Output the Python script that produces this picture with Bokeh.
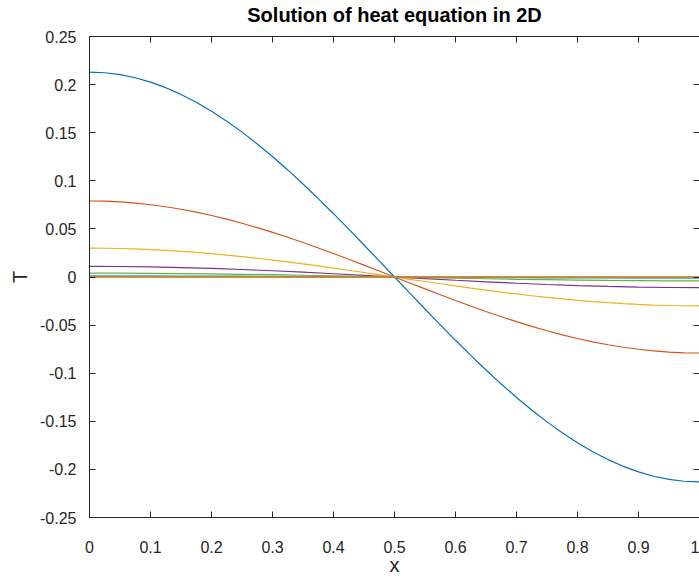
from bokeh.plotting import figure
from bokeh.models import LinearAxis, FixedTicker, Range1d
from bokeh.embed import file_html
from bokeh.resources import INLINE

# sample positions along x (fine grid for the large profiles, coarser for the small ones)
x_fine = [0.0, 0.025, 0.05, 0.075, 0.1, 0.125, 0.15, 0.175, 0.2, 0.225, 0.25,
          0.275, 0.3, 0.325, 0.35, 0.375, 0.4, 0.425, 0.45, 0.475, 0.5,
          0.525, 0.55, 0.575, 0.6, 0.625, 0.65, 0.675, 0.7, 0.725, 0.75,
          0.775, 0.8, 0.825, 0.85, 0.875, 0.9, 0.925, 0.95, 0.975, 1.0]
x_coarse = [0.0, 0.05, 0.1, 0.15, 0.2, 0.25, 0.3, 0.35, 0.4, 0.45, 0.5,
            0.55, 0.6, 0.65, 0.7, 0.75, 0.8, 0.85, 0.9, 0.95, 1.0]

# temperature profiles (one per time step)
T1 = [0.2130, 0.2123, 0.2104, 0.2071, 0.2026, 0.1968, 0.1898, 0.1816, 0.1723, 0.1620, 0.1506,
      0.1383, 0.1252, 0.1113, 0.0967, 0.0815, 0.0658, 0.0497, 0.0333, 0.0167, 0.0,
      -0.0167, -0.0333, -0.0497, -0.0658, -0.0815, -0.0967, -0.1113, -0.1252, -0.1383, -0.1506,
      -0.1620, -0.1723, -0.1816, -0.1898, -0.1968, -0.2026, -0.2071, -0.2104, -0.2123, -0.2130]
T2 = [0.0790, 0.0788, 0.0780, 0.0768, 0.0751, 0.0730, 0.0704, 0.0674, 0.0639, 0.0601, 0.0559,
      0.0513, 0.0464, 0.0413, 0.0359, 0.0302, 0.0244, 0.0184, 0.0124, 0.0062, 0.0,
      -0.0062, -0.0124, -0.0184, -0.0244, -0.0302, -0.0359, -0.0413, -0.0464, -0.0513, -0.0559,
      -0.0601, -0.0639, -0.0674, -0.0704, -0.0730, -0.0751, -0.0768, -0.0780, -0.0788, -0.0790]
T3 = [0.0300, 0.0299, 0.0296, 0.0292, 0.0285, 0.0277, 0.0267, 0.0256, 0.0243, 0.0228, 0.0212,
      0.0195, 0.0176, 0.0157, 0.0136, 0.0115, 0.0093, 0.0070, 0.0047, 0.0024, 0.0,
      -0.0024, -0.0047, -0.0070, -0.0093, -0.0115, -0.0136, -0.0157, -0.0176, -0.0195, -0.0212,
      -0.0228, -0.0243, -0.0256, -0.0267, -0.0277, -0.0285, -0.0292, -0.0296, -0.0299, -0.0300]
T4 = [0.0110, 0.0109, 0.0105, 0.0098, 0.0089, 0.0078, 0.0065, 0.0050, 0.0034, 0.0017, 0.0,
      -0.0017, -0.0034, -0.0050, -0.0065, -0.0078, -0.0089, -0.0098, -0.0105, -0.0109, -0.0110]
T5 = [0.0040, 0.0040, 0.0038, 0.0036, 0.0032, 0.0028, 0.0024, 0.0018, 0.0012, 0.0006, 0.0,
      -0.0006, -0.0012, -0.0018, -0.0024, -0.0028, -0.0032, -0.0036, -0.0038, -0.0040, -0.0040]
T6 = [0.0015, 0.0015, 0.0014, 0.0013, 0.0012, 0.0011, 0.0009, 0.0007, 0.0005, 0.0002, 0.0,
      -0.0002, -0.0005, -0.0007, -0.0009, -0.0011, -0.0012, -0.0013, -0.0014, -0.0015, -0.0015]
T7 = [0.0005, 0.0005, 0.0005, 0.0004, 0.0004, 0.0004, 0.0003, 0.0002, 0.0002, 0.0001, 0.0,
      -0.0001, -0.0002, -0.0002, -0.0003, -0.0004, -0.0004, -0.0004, -0.0005, -0.0005, -0.0005]
T8 = [0.0002, 0.0002, 0.0002, 0.0002, 0.0002, 0.0001, 0.0001, 0.0001, 0.0001, 0.0, 0.0,
      0.0, -0.0001, -0.0001, -0.0001, -0.0001, -0.0002, -0.0002, -0.0002, -0.0002, -0.0002]
T9 = [0.0001, 0.0001, 0.0001, 0.0001, 0.0001, 0.0001, 0.0, 0.0, 0.0, 0.0, 0.0,
      0.0, 0.0, 0.0, 0.0, -0.0001, -0.0001, -0.0001, -0.0001, -0.0001, -0.0001]
T10 = [0.0, 0.0, 0.0, 0.0, 0.0, 0.0, 0.0, 0.0, 0.0, 0.0, 0.0,
       0.0, 0.0, 0.0, 0.0, 0.0, 0.0, 0.0, 0.0, 0.0, 0.0]

series = [(x_fine, T1), (x_fine, T2), (x_fine, T3), (x_coarse, T4), (x_coarse, T5),
          (x_coarse, T6), (x_coarse, T7), (x_coarse, T8), (x_coarse, T9), (x_coarse, T10)]
colors = ["#0072BD", "#D95319", "#EDB120", "#7E2F8E", "#77AC30",
          "#4DBEEE", "#A2142F", "#0072BD", "#D95319", "#EDB120"]

x_ticks = [0.0, 0.1, 0.2, 0.3, 0.4, 0.5, 0.6, 0.7, 0.8, 0.9, 1.0]
x_tick_labels = ["0", "0.1", "0.2", "0.3", "0.4", "0.5", "0.6", "0.7", "0.8", "0.9", "1"]
y_ticks = [-0.25, -0.2, -0.15, -0.1, -0.05, 0.0, 0.05, 0.1, 0.15, 0.2, 0.25]
y_tick_labels = ["-0.25", "-0.2", "-0.15", "-0.1", "-0.05", "0", "0.05", "0.1", "0.15", "0.2", "0.25"]

title_text = "Solution of heat equation in 2D"
x_label = "x"
y_label = "T"

FONT = "Liberation Sans"
AX = "#262626"

p = figure(width=699, height=578,
           x_range=Range1d(0, 1), y_range=Range1d(-0.25, 0.25),
           output_backend="svg", toolbar_location=None,
           min_border_left=89, min_border_right=0,
           min_border_top=35, min_border_bottom=60,
           x_axis_label=x_label, y_axis_label=y_label)

p.grid.visible = False
p.outline_line_color = None
p.background_fill_color = "white"
p.border_fill_color = "white"

for ax in (p.xaxis[0], p.yaxis[0]):
    ax.axis_line_color = AX
    ax.axis_line_width = 1
    ax.major_tick_line_color = AX
    ax.major_tick_in = 6
    ax.major_tick_out = 0
    ax.minor_tick_line_color = None
    ax.major_label_text_font = FONT
    ax.major_label_text_font_size = "16px"
    ax.major_label_text_color = AX
    ax.axis_label_text_font = FONT
    ax.axis_label_text_font_size = "20px"
    ax.axis_label_text_font_style = "normal"
    ax.axis_label_text_color = AX

p.xaxis[0].ticker = FixedTicker(ticks=x_ticks)
p.xaxis[0].major_label_overrides = dict(zip(x_ticks, x_tick_labels))
p.xaxis[0].major_label_standoff = 23
p.xaxis[0].axis_label_standoff = -2

p.yaxis[0].ticker = FixedTicker(ticks=y_ticks)
p.yaxis[0].major_label_overrides = dict(zip(y_ticks, y_tick_labels))
p.yaxis[0].major_label_standoff = 13
p.yaxis[0].axis_label_standoff = 6

# box axes on top (carrying the title) and on the right, ticks only
top_axis = LinearAxis(ticker=FixedTicker(ticks=x_ticks),
                      major_label_text_font_size="1px", major_label_text_color=None,
                      major_label_standoff=0,
                      axis_line_color=AX, major_tick_line_color=AX,
                      major_tick_in=6, major_tick_out=0, minor_tick_line_color=None,
                      axis_label=title_text, axis_label_standoff=11,
                      axis_label_text_font=FONT, axis_label_text_font_size="20px",
                      axis_label_text_font_style="bold", axis_label_text_color="#000000")
p.add_layout(top_axis, "above")

right_axis = LinearAxis(ticker=FixedTicker(ticks=y_ticks),
                        major_label_text_font_size="1px", major_label_text_color=None,
                        major_label_standoff=0,
                        axis_line_color=AX, major_tick_line_color=AX,
                        major_tick_in=6, major_tick_out=0, minor_tick_line_color=None)
p.add_layout(right_axis, "right")

for (xs, ys), c in zip(series, colors):
    p.line(xs, ys, line_color=c, line_width=1.2)

open("out.html", "w").write(file_html(p, INLINE))
